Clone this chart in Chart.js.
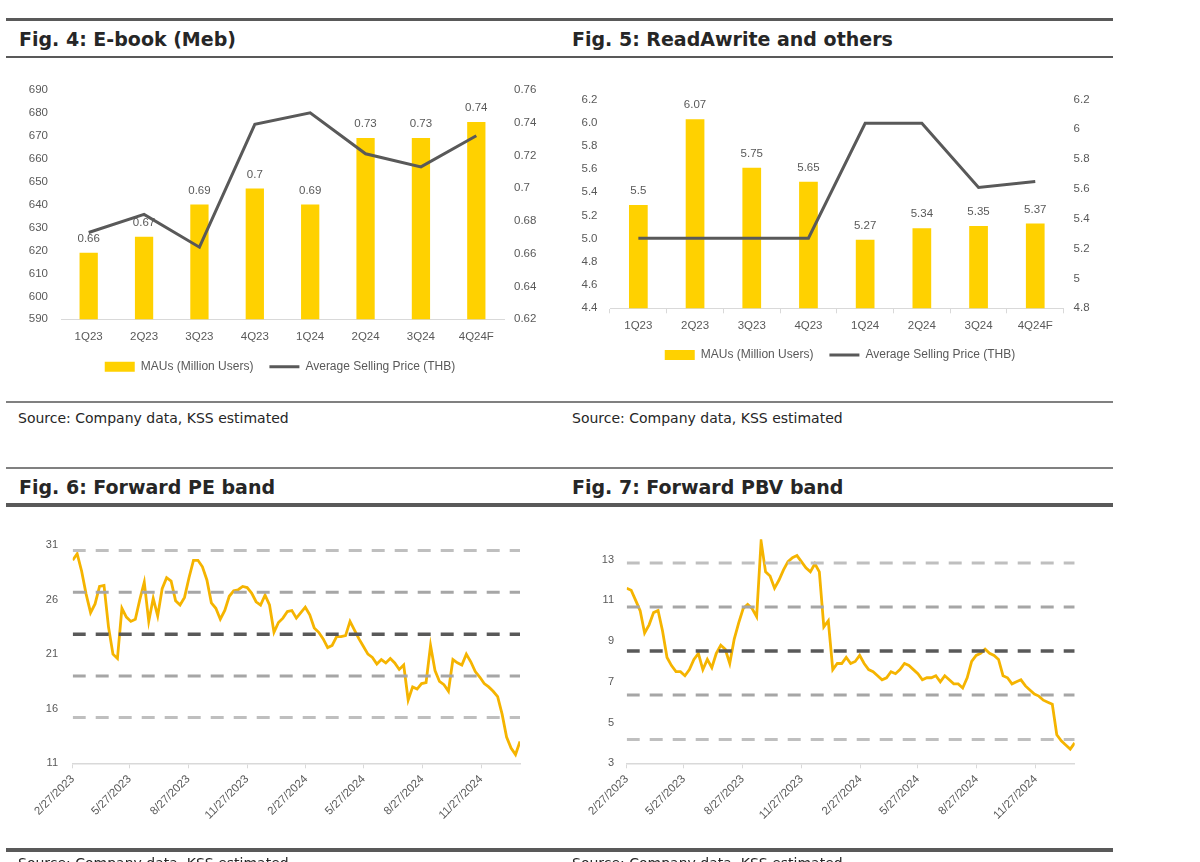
<!DOCTYPE html>
<html>
<head>
<meta charset="utf-8">
<script src="https://cdn.jsdelivr.net/npm/chart.js@4.4.1/dist/chart.umd.min.js"></script>
<style>
  body { margin: 0; background: #fff; }
  #page { position: relative; width: 1200px; height: 862px; overflow: hidden; background: #fff; }
  .rule { position: absolute; left: 6px; width: 1107px; background: #595959; }
  .title { position: absolute; font: bold 19px "DejaVu Sans", sans-serif; color: #262626; line-height: 24px; white-space: nowrap; }
  .source { position: absolute; font: 14px "DejaVu Sans", sans-serif; color: #262626; line-height: 18px; white-space: nowrap; }
  canvas { position: absolute; }
</style>
</head>
<body>
<div id="page">
  <div class="rule" style="top:18px;height:3px"></div>
  <div class="title" style="left:19px;top:27px">Fig. 4: E-book (Meb)</div>
  <div class="title" style="left:572px;top:27px">Fig. 5: ReadAwrite and others</div>
  <div class="rule" style="top:56px;height:2px"></div>
  <canvas id="mebChart" style="left:0;top:70px" width="560" height="320"></canvas>
  <canvas id="rawChart" style="left:560px;top:80px" width="560" height="300"></canvas>
  <div class="rule" style="top:401px;height:1.5px;background:#808080"></div>
  <div class="source" style="left:18px;top:409px">Source: Company data, KSS estimated</div>
  <div class="source" style="left:572px;top:409px">Source: Company data, KSS estimated</div>

  <div class="rule" style="top:467px;height:1.5px;background:#808080"></div>
  <div class="title" style="left:19px;top:475px">Fig. 6: Forward PE band</div>
  <div class="title" style="left:572px;top:475px">Fig. 7: Forward PBV band</div>
  <div class="rule" style="top:503px;height:4px"></div>
  <canvas id="peChart" style="left:0;top:520px" width="560" height="342"></canvas>
  <canvas id="pbvChart" style="left:560px;top:520px" width="560" height="342"></canvas>
  <div class="rule" style="top:848px;height:4px"></div>
  <div class="source" style="left:18px;top:854px">Source: Company data, KSS estimated</div>
  <div class="source" style="left:572px;top:854px">Source: Company data, KSS estimated</div>
</div>
<script>
// Fig 4 / Fig 5 data
const quarters = ['1Q23', '2Q23', '3Q23', '4Q23', '1Q24', '2Q24', '3Q24', '4Q24F'];
const mebMau = [619, 626, 640, 647, 640, 669, 669, 676];
const mebAsp = [0.673, 0.684, 0.664, 0.739, 0.746, 0.721, 0.713, 0.732];
const mebLabels = ['0.66', '0.67', '0.69', '0.7', '0.69', '0.73', '0.73', '0.74'];
const rawMau = [5.29, 6.03, 5.61, 5.49, 4.99, 5.09, 5.11, 5.13];
const rawAsp = [5.27, 5.27, 5.27, 5.27, 6.04, 6.04, 5.61, 5.65];
const rawLabels = ['5.5', '6.07', '5.75', '5.65', '5.27', '5.34', '5.35', '5.37'];

// Fig 6 / Fig 7 data: one reading per week from 2/27/2023
const bandTickLabels = ['2/27/2023', '5/27/2023', '8/27/2023', '11/27/2023', '2/27/2024', '5/27/2024', '8/27/2024', '11/27/2024'];
const peWeekly = [
  29.6, 30.2, 28.6, 26.5, 24.8, 25.6, 27.2, 27.3, 23.5, 21.0,
  20.6, 25.2, 24.4, 24.0, 24.2, 26.0, 27.6, 24.0, 26.1, 24.5,
  27.0, 28.0, 27.7, 25.9, 25.5, 26.2, 28.0, 29.6, 29.6, 29.0,
  27.8, 25.7, 25.2, 24.2, 25.0, 26.3, 26.8, 26.9, 27.2, 27.1,
  26.6, 25.8, 25.5, 26.4, 25.5, 23.0, 23.9, 24.3, 24.9, 25.0,
  24.3, 24.8, 25.3, 24.6, 23.4, 23.0, 22.4, 21.6, 21.8, 22.6,
  22.6, 22.7, 24.0, 23.2, 22.4, 21.7, 21.0, 20.7, 20.1, 20.5,
  20.2, 20.6, 20.2, 19.6, 20.0, 16.8, 18.0, 17.8, 18.3, 18.4,
  21.8, 19.5, 18.5, 18.2, 17.6, 20.5, 20.2, 20.0, 21.0, 20.3,
  19.4, 18.9, 18.3, 18.0, 17.6, 17.1, 15.5, 13.4, 12.4, 11.8,
  13.0
];
const peBands = [30.5, 26.66, 22.83, 19.0, 15.19];
const peTicks = [11, 16, 21, 26, 31];
const pbvWeekly = [
  11.6, 11.5, 11.0, 10.5, 9.4, 9.8, 10.4, 10.5, 9.5, 8.2,
  7.8, 7.5, 7.5, 7.3, 7.6, 8.1, 8.4, 7.6, 8.1, 7.7,
  8.4, 8.8, 8.6, 7.9, 9.1, 9.9, 10.6, 10.8, 10.6, 10.2,
  13.9, 12.4, 12.2, 11.6, 12.0, 12.5, 12.9, 13.1, 13.2, 12.9,
  12.6, 12.4, 12.8, 12.4, 9.7, 10.0, 7.6, 7.9, 7.9, 8.2,
  7.9, 8.0, 8.3, 7.9, 7.6, 7.5, 7.3, 7.1, 7.2, 7.5,
  7.4, 7.6, 7.9, 7.8, 7.6, 7.4, 7.1, 7.2, 7.2, 7.3,
  7.0, 7.3, 7.1, 6.9, 6.9, 6.7, 7.2, 8.0, 8.3, 8.4,
  8.6, 8.4, 8.3, 8.1, 7.3, 7.2, 6.9, 7.0, 7.1, 6.8,
  6.6, 6.4, 6.3, 6.1, 6.0, 5.9, 4.4, 4.1, 3.9, 3.7,
  4.0
];
const pbvBands = [12.84, 10.68, 8.51, 6.35, 4.17];
const pbvTicks = [3, 5, 7, 9, 11, 13];

Chart.defaults.font.family = '"Liberation Sans", Arial, sans-serif';
Chart.defaults.font.size = 11;
Chart.defaults.color = '#595959';
Chart.defaults.animation = false;

const YELLOW = '#FFD100';
const GOLD = '#F5B400';
const DARK = '#595959';
const AXIS = '#d9d9d9';

// value labels sitting above the bars, drawn before the line goes on top
const barLabels = {
    id: 'barLabels',
    afterDatasetDraw(chart, args, opts) {
        if (args.index !== 0 || !opts.labels) return;
        const ctx = chart.ctx;
        ctx.save();
        ctx.font = '11.5px "Liberation Sans", Arial, sans-serif';
        ctx.fillStyle = DARK;
        ctx.textAlign = 'center';
        ctx.textBaseline = 'middle';
        args.meta.data.forEach((bar, i) => ctx.fillText(opts.labels[i], bar.x, bar.y - 14));
        ctx.restore();
    }
};

function comboChart(id, cfg) {
    return new Chart(document.getElementById(id), {
        type: 'bar',
        data: {
            labels: quarters,
            datasets: [{
                label: 'MAUs (Million Users)',
                data: cfg.bars,
                yAxisID: 'y',
                backgroundColor: YELLOW,
                categoryPercentage: 1,
                barPercentage: 0.33,
                pointStyle: 'rect',
                order: 2
            }, {
                type: 'line',
                label: 'Average Selling Price (THB)',
                data: cfg.line,
                yAxisID: 'y1',
                borderColor: DARK,
                backgroundColor: DARK,
                borderWidth: 3,
                pointRadius: 0,
                tension: 0,
                pointStyle: 'line',
                order: 1
            }]
        },
        options: {
            responsive: false,
            layout: { padding: cfg.padding },
            plugins: {
                tooltip: { enabled: false },
                barLabels: { labels: cfg.labels },
                legend: {
                    position: 'bottom',
                    labels: {
                        usePointStyle: true,
                        pointStyleWidth: 30,
                        boxHeight: 10,
                        padding: 16,
                        color: DARK,
                        font: { size: 12 },
                        sort: (a, b) => a.datasetIndex - b.datasetIndex
                    }
                }
            },
            scales: {
                x: {
                    grid: cfg.xTicks
                        ? { display: true, drawOnChartArea: false, drawTicks: true, tickLength: 5, color: AXIS, offset: true }
                        : { display: false, drawTicks: false },
                    border: { color: AXIS, width: 1 },
                    ticks: { padding: cfg.xTicks ? 5.8 : 10.5, color: DARK, font: { size: 11.5 } },
                    afterFit(s) { s.height = cfg.xHeight; }
                },
                y: {
                    position: 'left',
                    min: cfg.yMin, max: cfg.yMax,
                    ticks: { stepSize: cfg.yStep, padding: cfg.yPad, color: DARK, font: { size: 11.5 }, callback: cfg.yFmt },
                    grid: { display: false, drawTicks: false },
                    border: { display: false },
                    afterFit(s) { s.width = cfg.yWidth; }
                },
                y1: {
                    position: 'right',
                    min: cfg.y1Min, max: cfg.y1Max,
                    ticks: { stepSize: cfg.y1Step, padding: 10, color: DARK, font: { size: 11.5 }, callback: cfg.y1Fmt },
                    grid: { display: false, drawTicks: false },
                    border: { display: false },
                    afterFit(s) { s.width = cfg.y1Width; }
                }
            }
        },
        plugins: [barLabels]
    });
}

comboChart('mebChart', {
    bars: mebMau, line: mebAsp, labels: mebLabels,
    yMin: 590, yMax: 690, yStep: 10, yFmt: v => v,
    y1Min: 0.62, y1Max: 0.76, y1Step: 0.02, y1Fmt: v => String(+v.toFixed(2)),
    yWidth: 61, yPad: 13, y1Width: 56,
    xHeight: 25.4, xTicks: false,
    padding: { top: 16, bottom: 7.3, left: 0, right: 0 }
});

comboChart('rawChart', {
    bars: rawMau, line: rawAsp, labels: rawLabels,
    yMin: 4.4, yMax: 6.2, yStep: 0.2, yFmt: v => v.toFixed(1),
    y1Min: 4.8, y1Max: 6.2, y1Step: 0.2, y1Fmt: v => String(+v.toFixed(1)),
    yWidth: 50, yPad: 12.5, y1Width: 56.4,
    xHeight: 24.7, xTicks: true,
    padding: { top: 18.3, bottom: 9, left: 0, right: 0 }
});

function dayOffset(s) {
    const [m, d, y] = s.split('/').map(Number);
    return (Date.UTC(y, m - 1, d) - Date.UTC(2023, 1, 27)) / 864e5;
}

function bandChart(id, cfg) {
    const bandColors = ['#bfbfbf', '#a6a6a6', '#595959', '#a6a6a6', '#bfbfbf'];
    const lastDay = (cfg.series.length - 1) * 7;
    const bandSets = cfg.bands.map((v, i) => ({
        label: 'band ' + (i + 1),
        data: [{ x: 0, y: v }, { x: lastDay, y: v }],
        borderColor: bandColors[i],
        borderWidth: i === 2 ? 3.5 : 3,
        borderDash: [13, 10],
        pointRadius: 0,
        order: 0
    }));
    return new Chart(document.getElementById(id), {
        type: 'line',
        data: {
            datasets: [{
                label: cfg.name,
                data: cfg.series.map((v, i) => ({ x: i * 7, y: v })),
                borderColor: GOLD,
                borderWidth: 2.8,
                pointRadius: 0,
                tension: 0,
                order: 1
            }, ...bandSets]
        },
        options: {
            responsive: false,
            layout: { padding: cfg.padding },
            plugins: { legend: { display: false }, tooltip: { enabled: false } },
            scales: {
                x: {
                    type: 'linear',
                    min: 0, max: lastDay,
                    afterBuildTicks(s) { s.ticks = bandTickLabels.map(t => ({ value: dayOffset(t) })); },
                    ticks: {
                        autoSkip: false, minRotation: 45, maxRotation: 45, padding: 4, color: DARK,
                        font: { size: 11.5 },
                        callback: (v, i) => bandTickLabels[i]
                    },
                    grid: { display: true, drawOnChartArea: false, drawTicks: true, tickLength: 5, color: AXIS },
                    border: { color: AXIS, width: 1.5 },
                    afterFit(s) { s.height = cfg.xHeight; }
                },
                y: {
                    min: cfg.yMin, max: cfg.yMax,
                    afterBuildTicks(s) { s.ticks = cfg.yTicks.map(v => ({ value: v })); },
                    ticks: { padding: cfg.yPad, color: DARK },
                    grid: { display: false, drawTicks: false },
                    border: { display: false },
                    afterFit(s) { s.width = cfg.yWidth; }
                }
            }
        }
    });
}

bandChart('peChart', {
    name: 'Forward PE', series: peWeekly, bands: peBands,
    yMin: 11, yMax: 31, yTicks: peTicks, yWidth: 72.7, yPad: 14.7,
    xHeight: 98.7,
    padding: { top: 25, right: 40, bottom: 0, left: 0 }
});

bandChart('pbvChart', {
    name: 'Forward PBV', series: pbvWeekly, bands: pbvBands,
    yMin: 3, yMax: 14, yTicks: pbvTicks, yWidth: 66.7, yPad: 12.7,
    xHeight: 98.7,
    padding: { top: 14.5, right: 45.3, bottom: 0, left: 0 }
});
</script>
</body>
</html>
